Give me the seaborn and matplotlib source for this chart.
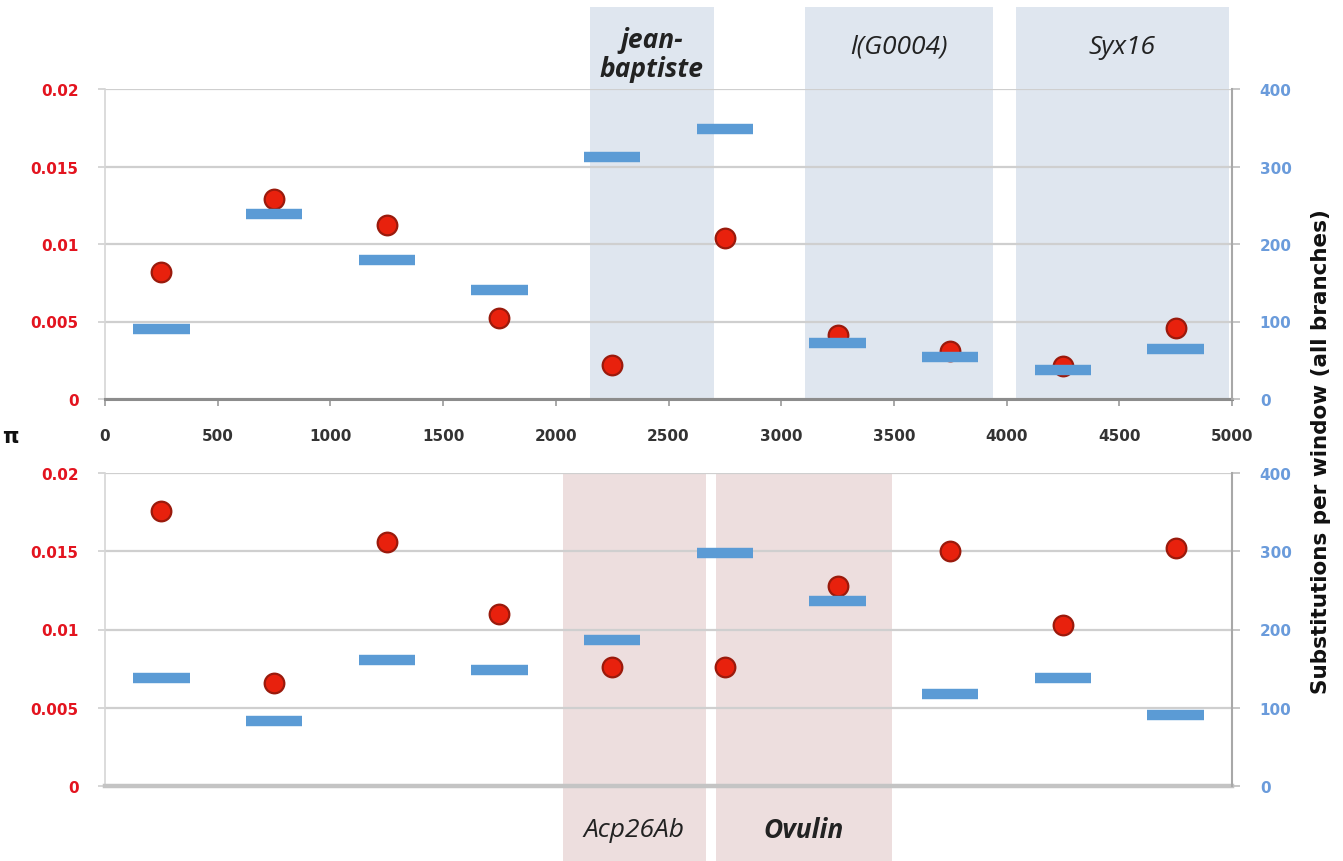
import matplotlib
matplotlib.use("Agg")
import matplotlib.pyplot as plt
import matplotlib.transforms as mtransforms
from matplotlib.patches import Rectangle
import seaborn as sns
import pandas as pd

# ---------------- data ----------------
window_centers = [250, 750, 1250, 1750, 2250, 2750, 3250, 3750, 4250, 4750]

top_pi = [0.0082, 0.0129, 0.0112, 0.0052, 0.0022, 0.0104, 0.0041, 0.0031, 0.0021, 0.0046]
top_subs = [90, 239, 179, 141, 312, 348, 72, 54, 37, 65]

bottom_pi = [0.0176, 0.0066, 0.0156, 0.0110, 0.0076, 0.0076, 0.0128, 0.0150, 0.0103, 0.0152]
bottom_subs = [138, 83, 161, 148, 187, 298, 236, 118, 138, 91]

top_genes = ["jean-\nbaptiste", "l(G0004)", "Syx16"]
top_gene_start = [2150, 3105, 4040]
top_gene_end = [2700, 3940, 4985]
top_gene_bold = [True, False, False]

bottom_genes = ["Acp26Ab", "Ovulin"]
bottom_gene_start = [2030, 2710]
bottom_gene_end = [2665, 3490]
bottom_gene_bold = [False, True]

x_ticks = [0, 500, 1000, 1500, 2000, 2500, 3000, 3500, 4000, 4500, 5000]
pi_ticks = [0, 0.005, 0.01, 0.015, 0.02]
pi_tick_labels = ["0", "0.005", "0.01", "0.015", "0.02"]
subs_ticks = [0, 100, 200, 300, 400]

# ---------------- style ----------------
sns.set_theme(style="white")
plt.rcParams["font.family"] = ["DejaVu Sans"]

RED = "#e8210d"
RED_EDGE = "#9a1a0c"
BLUE = "#5b9bd5"
RED_TXT = "#e3141f"
BLUE_TXT = "#6a9bdb"
TOP_SHADE = "#dfe6ef"
BOT_SHADE = "#eddede"
GRID = "#cfcfcf"

W, H = 1343, 862
fig = plt.figure(figsize=(W / 100, H / 100), dpi=100)


def fx(px):
    return px / W


def fy(py):
    return 1 - py / H


ax_top = fig.add_axes([fx(105), fy(400), fx(1232) - fx(105), fy(90) - fy(400)])
ax_bot = fig.add_axes([fx(105), fy(787), fx(1232) - fx(105), fy(474) - fy(787)])


def draw_panel(ax, pis, subs, genes, g0, g1, gbold, shade, top_panel):
    df = pd.DataFrame({"pos": window_centers, "pi": pis, "subs": subs})
    ax.set_xlim(0, 5000)
    ax.set_ylim(0, 0.02)
    ax.set_yticks(pi_ticks)
    ax.set_yticklabels(pi_tick_labels)
    ax.set_axisbelow(True)
    ax.yaxis.grid(True, color=GRID, linewidth=1.6)
    ax.xaxis.grid(False)

    trans = mtransforms.blended_transform_factory(ax.transData, ax.transAxes)
    if top_panel:
        y0, y1 = 0.0, (400 - 8) / 310
    else:
        y0, y1 = (787 - 862) / 313, 1.0
    for name, a, b, bold in zip(genes, g0, g1, gbold):
        ax.add_patch(Rectangle((a, y0), b - a, y1 - y0, transform=trans,
                               facecolor=shade, edgecolor="none", zorder=0.1,
                               clip_on=False))
        if top_panel:
            ty = (400 - 47) / 310 if "\n" not in name else (400 - 55) / 310
        else:
            ty = (787 - 831) / 313
        ax.text((a + b) / 2, ty, name, transform=trans, ha="center", va="center",
                fontsize=19, style="italic",
                fontweight="bold" if bold else "normal",
                family=["Open Sans", "DejaVu Sans"], color="#222222",
                linespacing=1.05, clip_on=False)

    sns.scatterplot(data=df, x="pos", y="pi", ax=ax, s=200, color=RED,
                    edgecolor=RED_EDGE, linewidth=1.6, zorder=3, legend=False)
    ax.set_xlabel("")
    ax.set_ylabel("")

    ax2 = ax.twinx()
    ax2.set_ylim(0, 400)
    ax2.set_yticks(subs_ticks)
    ax2.hlines(df["subs"], df["pos"] - 125, df["pos"] + 125, color=BLUE,
               linewidth=7.5, zorder=4)
    ax2.grid(False)

    for a in (ax, ax2):
        a.spines["top"].set_visible(False)
    ax.spines["left"].set_color("#d6d6d6")
    ax.spines["left"].set_linewidth(1.2)
    ax2.spines["left"].set_visible(False)
    ax.spines["right"].set_visible(False)
    ax2.spines["right"].set_color("#a8a8a8")
    ax2.spines["right"].set_linewidth(1.5)
    ax2.spines["bottom"].set_visible(False)

    ax.tick_params(axis="y", left=True, length=5, width=1.2, color=GRID,
                   labelsize=11, labelcolor=RED_TXT, pad=14)
    for lab in ax.get_yticklabels():
        lab.set_fontweight("bold")
    ax2.tick_params(axis="y", right=True, length=6, width=1.2, color="#bdbdbd",
                    labelsize=11, labelcolor=BLUE_TXT, pad=14)
    for lab in ax2.get_yticklabels():
        lab.set_fontweight("bold")

    if top_panel:
        ax.spines["bottom"].set_color("#8c8c8c")
        ax.spines["bottom"].set_linewidth(2.2)
        ax.set_xticks(x_ticks)
        ax.set_xticklabels([str(t) for t in x_ticks])
        ax.tick_params(axis="x", bottom=True, length=5, width=1.2, color="#9a9a9a",
                       labelsize=11, labelcolor="#333333", pad=16)
        for lab in ax.get_xticklabels():
            lab.set_fontweight("bold")
    else:
        ax.spines["bottom"].set_color("#c4c4c4")
        ax.spines["bottom"].set_linewidth(3.2)
        ax.set_xticks([])
    return ax2


draw_panel(ax_top, top_pi, top_subs, top_genes, top_gene_start, top_gene_end,
           top_gene_bold, TOP_SHADE, True)
draw_panel(ax_bot, bottom_pi, bottom_subs, bottom_genes, bottom_gene_start,
           bottom_gene_end, bottom_gene_bold, BOT_SHADE, False)

fig.text(fx(10), fy(437), "π", fontsize=15, fontweight="bold", color="#111111",
         ha="center", va="center")
fig.text(fx(1321), fy(452), "Substitutions per window (all branches)", fontsize=15.5,
         fontweight="bold", color="#111111", rotation=90, ha="center", va="center")

fig.savefig("out.png", dpi=100, facecolor="white")
